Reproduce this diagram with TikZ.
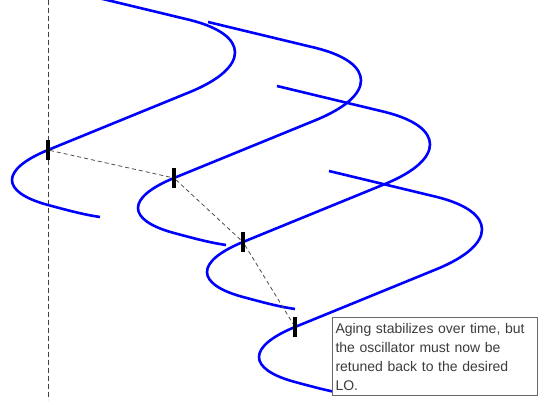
\documentclass[tikz,border=0pt]{standalone}
\usepackage{fontspec}
\newfontfamily\notefont{Liberation Sans}
\usepackage{tikz}
\definecolor{waveblue}{RGB}{0,0,255}
\definecolor{notegray}{RGB}{105,105,105}
\definecolor{textgray}{RGB}{60,60,60}

\begin{document}
\begin{tikzpicture}[x=1pt,y=-1pt,
    wave/.style={waveblue, line width=2.6pt},
    tick/.style={fill=black, inner sep=0pt, minimum width=3.5pt, minimum height=20pt},
    link/.style={gray!60!black, line width=0.8pt, dash pattern=on 4pt off 3pt},
    axisline/.style={black!75, line width=0.9pt, dash pattern=on 5pt off 3pt},
    note/.style={draw=notegray, line width=1pt, fill=white, text=textgray,
      anchor=north west, align=left, text width=199pt, inner xsep=3pt,
      minimum height=78pt, font=\notefont\fontsize{14}{19}\selectfont}]
            \path[use as bounding box] (0,0) rectangle (539,403);
            \clip (0,0) rectangle (539,403);

            % reference line
            \coordinate (top) at (48,0);
            \coordinate (bottom) at (48,400);
            \draw[axisline] (top) -- (bottom);

            % curves, one per aging step
            \foreach \x/\y [count=\i] in {48/150, 174/178, 243/242, 295/327} {
              \begin{scope}[shift={(\x,\y)}]
                \draw[wave] (34,-156) -- (142,-130)
                  .. controls (202,-115) and (202,-82.6) .. (142,-58) -- (0,0)
                  .. controls (-48,19.7) and (-48,42) .. (0,55)
                  .. controls (25,61.75) and (38,65) .. (52,67);
                \node[tick] (t\i) at (0,0) {};
              \end{scope}
            }

            % drift
            \draw[link] (t1) -- (t2) -- (t3) -- (t4);

            % note
            \node[note] (note) at (332,317) {Aging stabilizes over time, but\\
              the oscillator must now be\\ retuned back to the desired\\ LO.};
          \end{tikzpicture}
\end{document}
